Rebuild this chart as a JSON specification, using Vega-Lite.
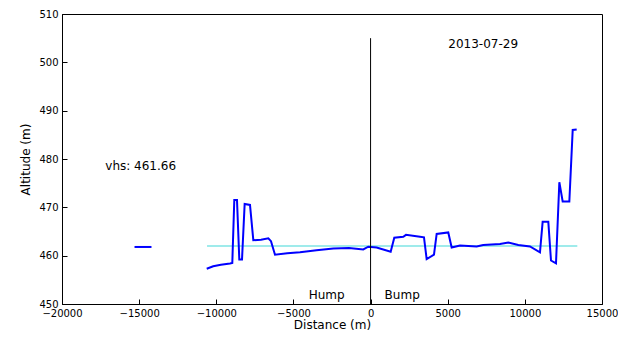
{
  "$schema": "https://vega.github.io/schema/vega-lite/v6.json",
  "width": 540,
  "height": 290,
  "autosize": {"type": "none"},
  "padding": {"left": 62, "top": 14, "right": 16, "bottom": 34},
  "config": {
    "font": "DejaVu Sans",
    "view": {"stroke": "#000000", "strokeWidth": 1},
    "axis": {
      "grid": false,
      "domainColor": "#000000",
      "tickColor": "#000000",
      "tickSize": -5,
      "tickWidth": 1,
      "labelFlush": false,
      "labelOverlap": false,
      "labelFont": "DejaVu Sans",
      "labelFontSize": 10,
      "labelColor": "#000000",
      "titleFont": "DejaVu Sans",
      "titleFontSize": 12,
      "titleFontWeight": "normal",
      "titleColor": "#000000",
      "labelPadding": 9
    }
  },
  "datasets": {
    "profile": [
      {"seg": "a", "d": -15300, "alt": 461.8},
      {"seg": "a", "d": -14200, "alt": 461.8},
      {"seg": "b", "d": -10620, "alt": 457.3},
      {"seg": "b", "d": -10200, "alt": 457.8},
      {"seg": "b", "d": -9700, "alt": 458.1},
      {"seg": "b", "d": -9112, "alt": 458.4},
      {"seg": "b", "d": -8962, "alt": 458.5},
      {"seg": "b", "d": -8833, "alt": 471.5},
      {"seg": "b", "d": -8658, "alt": 471.5},
      {"seg": "b", "d": -8508, "alt": 459.2},
      {"seg": "b", "d": -8333, "alt": 459.2},
      {"seg": "b", "d": -8161, "alt": 470.7},
      {"seg": "b", "d": -7815, "alt": 470.5},
      {"seg": "b", "d": -7600, "alt": 463.2},
      {"seg": "b", "d": -7100, "alt": 463.3},
      {"seg": "b", "d": -6628, "alt": 463.6},
      {"seg": "b", "d": -6454, "alt": 463.0},
      {"seg": "b", "d": -6195, "alt": 460.2},
      {"seg": "b", "d": -5400, "alt": 460.5},
      {"seg": "b", "d": -4575, "alt": 460.7},
      {"seg": "b", "d": -3500, "alt": 461.1},
      {"seg": "b", "d": -2416, "alt": 461.5},
      {"seg": "b", "d": -1400, "alt": 461.6},
      {"seg": "b", "d": -472, "alt": 461.3},
      {"seg": "b", "d": -148, "alt": 461.85},
      {"seg": "b", "d": 392, "alt": 461.7},
      {"seg": "b", "d": 1303, "alt": 460.8},
      {"seg": "b", "d": 1537, "alt": 463.7},
      {"seg": "b", "d": 2120, "alt": 463.9},
      {"seg": "b", "d": 2295, "alt": 464.3},
      {"seg": "b", "d": 3203, "alt": 463.9},
      {"seg": "b", "d": 3462, "alt": 463.8},
      {"seg": "b", "d": 3635, "alt": 459.3},
      {"seg": "b", "d": 4110, "alt": 460.2},
      {"seg": "b", "d": 4284, "alt": 464.5},
      {"seg": "b", "d": 5036, "alt": 464.8},
      {"seg": "b", "d": 5256, "alt": 461.7},
      {"seg": "b", "d": 5796, "alt": 462.1},
      {"seg": "b", "d": 6878, "alt": 461.9},
      {"seg": "b", "d": 7300, "alt": 462.2},
      {"seg": "b", "d": 8388, "alt": 462.4},
      {"seg": "b", "d": 8928, "alt": 462.7},
      {"seg": "b", "d": 9575, "alt": 462.2},
      {"seg": "b", "d": 10331, "alt": 461.9},
      {"seg": "b", "d": 10980, "alt": 460.7},
      {"seg": "b", "d": 11153, "alt": 467.0},
      {"seg": "b", "d": 11520, "alt": 467.0},
      {"seg": "b", "d": 11694, "alt": 459.0},
      {"seg": "b", "d": 12018, "alt": 458.4},
      {"seg": "b", "d": 12235, "alt": 475.2},
      {"seg": "b", "d": 12451, "alt": 471.2},
      {"seg": "b", "d": 12883, "alt": 471.2},
      {"seg": "b", "d": 13101, "alt": 486.0},
      {"seg": "b", "d": 13359, "alt": 486.1}
    ],
    "ref": [{"d1": -10600, "d2": 13400, "alt": 462.0}],
    "center": [{"d": 0, "a1": 450, "a2": 505}],
    "labels": [
      {"d": -14900, "alt": 478.5, "txt": "vhs: 461.66"},
      {"d": 7300, "alt": 503.8, "txt": "2013-07-29"},
      {"d": -2850, "alt": 451.8, "txt": "Hump"},
      {"d": 2050, "alt": 451.8, "txt": "Bump"}
    ]
  },
  "layer": [
    {
      "data": {"name": "ref"},
      "mark": {"type": "rule", "color": "#40d8d8", "strokeWidth": 1.2},
      "encoding": {
        "x": {"field": "d1", "type": "quantitative", "scale": {"domain": [-20000, 15000], "nice": false, "zero": false}, "axis": {"title": "Distance (m)", "orient": "bottom", "values": [-20000, -15000, -10000, -5000, 0, 5000, 10000, 15000], "format": "d", "titlePadding": 1}},
        "x2": {"field": "d2"},
        "y": {"field": "alt", "type": "quantitative", "scale": {"domain": [450, 510], "nice": false, "zero": false}, "axis": {"title": "Altitude (m)", "orient": "left", "values": [450, 460, 470, 480, 490, 500, 510], "titlePadding": 6}}
      }
    },
    {
      "data": {"name": "profile"},
      "mark": {"type": "line", "color": "#0000ff", "strokeWidth": 2},
      "encoding": {
        "x": {"field": "d", "type": "quantitative"},
        "y": {"field": "alt", "type": "quantitative"},
        "detail": {"field": "seg"}
      }
    },
    {
      "data": {"name": "center"},
      "mark": {"type": "rule", "color": "#000000", "strokeWidth": 1},
      "encoding": {
        "x": {"field": "d", "type": "quantitative"},
        "y": {"field": "a1", "type": "quantitative"},
        "y2": {"field": "a2"}
      }
    },
    {
      "data": {"name": "labels"},
      "mark": {"type": "text", "font": "DejaVu Sans", "fontSize": 12, "color": "#000000", "baseline": "middle", "align": "center"},
      "encoding": {
        "x": {"field": "d", "type": "quantitative"},
        "y": {"field": "alt", "type": "quantitative"},
        "text": {"field": "txt"}
      }
    }
  ]
}
